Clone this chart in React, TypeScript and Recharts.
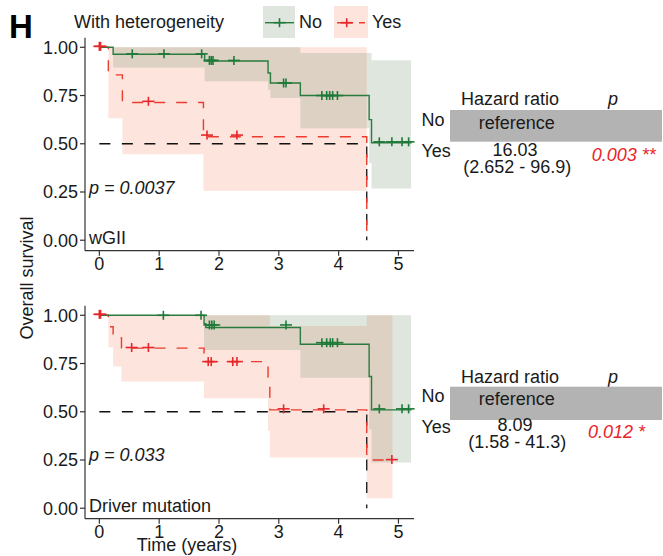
import React from 'react';
import { ComposedChart, Line, Area, Scatter, XAxis, YAxis } from 'recharts';

const FONT = '"Liberation Sans", Arial, Helvetica, sans-serif';
const TXT = '#1a1a1a';
const GREEN = '#2a7b3e';
const GREEN_MARK = '#1f7a3a';
const RED = '#ec3b2f';
const RED_MARK = '#e8262a';
const GREEN_FILL = '#6b8f6b';
const RED_FILL = '#f4845f';
const FILL_OP = 0.22;

const xTicks = [0, 1, 2, 3, 4, 5];
const yTicks = [0, 0.25, 0.5, 0.75, 1];

// ---------- Panel 1: wGII ----------
const wgiiNoCurve = [
  { t: 0, s: 1 }, { t: 0.23, s: 0.964 }, { t: 1.76, s: 0.929 }, { t: 2.82, s: 0.867 },
  { t: 2.86, s: 0.815 }, { t: 3.36, s: 0.75 }, { t: 4.51, s: 0.625 }, { t: 4.55, s: 0.505 },
  { t: 5.22, s: 0.505 },
];
const wgiiNoBand = [
  { t: 0, band: [1, 1] }, { t: 0.23, band: [0.895, 1] }, { t: 1.76, band: [0.824, 1] },
  { t: 2.82, band: [0.78, 1] }, { t: 2.86, band: [0.737, 1] }, { t: 3.36, band: [0.58, 0.97] },
  { t: 4.51, band: [0.4, 0.97] }, { t: 4.55, band: [0.268, 0.933] }, { t: 5.21, band: [0.268, 0.933] },
];
const wgiiNoCensor = [
  { t: 0.55, s: 0.966 }, { t: 1.08, s: 0.966 }, { t: 1.71, s: 0.966 },
  { t: 1.84, s: 0.932 }, { t: 1.87, s: 0.932 }, { t: 1.9, s: 0.932 }, { t: 2.25, s: 0.932 },
  { t: 3.08, s: 0.815 }, { t: 3.12, s: 0.815 },
  { t: 3.72, s: 0.75 }, { t: 3.8, s: 0.75 }, { t: 3.85, s: 0.75 }, { t: 3.9, s: 0.75 }, { t: 3.98, s: 0.75 },
  { t: 4.68, s: 0.51 }, { t: 4.89, s: 0.51 }, { t: 5.06, s: 0.51 }, { t: 5.17, s: 0.51 },
];
const wgiiYesCurve = [
  { t: 0, s: 1 }, { t: 0.15, s: 0.857 }, { t: 0.385, s: 0.714 }, { t: 1.74, s: 0.536 }, { t: 4.47, s: 0 },
];
const wgiiYesBand = [
  { t: 0, band: [1, 1] }, { t: 0.15, band: [0.632, 1] }, { t: 0.385, band: [0.446, 1] },
  { t: 1.74, band: [0.256, 1] }, { t: 4.47, band: [0.256, 1] },
];
const wgiiYesCensor = [
  { t: 0, s: 1.005 }, { t: 0.02, s: 1.005 }, { t: 0.82, s: 0.72 }, { t: 1.8, s: 0.545 }, { t: 2.3, s: 0.545 },
];
const wgiiMedian = [{ t: 0, s: 0.5 }, { t: 4.47, s: 0.5 }, { t: 4.47, s: 0 }];

// ---------- Panel 2: Driver mutation ----------
const driverNoCurve = [
  { t: 0, s: 1 }, { t: 1.75, s: 0.957 }, { t: 1.78, s: 0.937 }, { t: 3.36, s: 0.85 },
  { t: 4.51, s: 0.683 }, { t: 4.55, s: 0.51 }, { t: 5.22, s: 0.51 },
];
const driverNoBand = [
  { t: 0, band: [1, 1] }, { t: 1.75, band: [0.82, 1] }, { t: 3.36, band: [0.676, 1] },
  { t: 4.51, band: [0.41, 1] }, { t: 4.55, band: [0.237, 1] }, { t: 5.21, band: [0.237, 1] },
];
const driverNoCensor = [
  { t: 1.07, s: 1.0 }, { t: 1.7, s: 1.0 },
  { t: 1.84, s: 0.95 }, { t: 1.88, s: 0.95 }, { t: 1.92, s: 0.95 }, { t: 3.12, s: 0.95 },
  { t: 3.72, s: 0.858 }, { t: 3.8, s: 0.858 }, { t: 3.86, s: 0.858 }, { t: 3.9, s: 0.858 }, { t: 3.98, s: 0.858 },
  { t: 4.68, s: 0.515 }, { t: 5.06, s: 0.515 }, { t: 5.17, s: 0.515 },
];
const driverYesCurve = [
  { t: 0, s: 1 }, { t: 0.15, s: 0.941 }, { t: 0.23, s: 0.882 }, { t: 0.37, s: 0.83 },
  { t: 1.75, s: 0.76 }, { t: 2.82, s: 0.68 }, { t: 2.85, s: 0.51 }, { t: 4.47, s: 0.25 }, { t: 4.92, s: 0.25 },
];
const driverYesBand = [
  { t: 0, band: [1, 1] }, { t: 0.15, band: [0.835, 1] }, { t: 0.23, band: [0.735, 1] },
  { t: 0.37, band: [0.657, 1] }, { t: 1.75, band: [0.57, 1] }, { t: 2.82, band: [0.4, 1] },
  { t: 2.85, band: [0.263, 0.945] }, { t: 4.47, band: [0.052, 1] }, { t: 4.9, band: [0.052, 1] },
];
const driverYesCensor = [
  { t: 0, s: 1.005 }, { t: 0.02, s: 1.005 }, { t: 0.54, s: 0.833 }, { t: 0.82, s: 0.833 },
  { t: 1.82, s: 0.76 }, { t: 1.87, s: 0.76 }, { t: 2.23, s: 0.76 }, { t: 2.3, s: 0.76 },
  { t: 3.08, s: 0.515 }, { t: 3.75, s: 0.515 }, { t: 4.89, s: 0.252 },
];
const driverMedian = [{ t: 0, s: 0.5 }, { t: 4.47, s: 0.5 }, { t: 4.47, s: 0 }];

const Plus = ({ cx, cy, color }: { cx: number; cy: number; color: string }) => (
  <g stroke={color} strokeWidth={1.6}>
    <line x1={cx - 6} x2={cx + 6} y1={cy} y2={cy} />
    <line x1={cx} x2={cx} y1={cy - 4.5} y2={cy + 4.5} />
  </g>
);

const tickStyle = { fontSize: 18, fill: TXT, fontFamily: FONT };
const axisLineStyle = { stroke: '#333', strokeWidth: 1.2 };

function KMPanel(props: any) {
  const { top, noCurve, noBand, noCensor, yesCurve, yesBand, yesCensor, median } = props;
  return (
    <div style={{ position: 'absolute', left: 0, top, width: 420, height: 280 }}>
      <ComposedChart width={420} height={280} margin={{ top: 37.65, right: 6, bottom: 4.35, left: 0 }}>
        <XAxis
          type="number"
          dataKey="t"
          domain={[-0.24, 5.26]}
          ticks={xTicks}
          interval={0}
          tickSize={5}
          height={25}
          axisLine={axisLineStyle}
          tickLine={axisLineStyle}
          tick={tickStyle}
        />
        <YAxis
          type="number"
          domain={[-0.054, 1.05]}
          ticks={yTicks}
          interval={0}
          width={85}
          tickSize={5}
          axisLine={axisLineStyle}
          tickLine={axisLineStyle}
          tick={tickStyle}
          tickFormatter={(v: number) => v.toFixed(2)}
        />
        <Area data={yesBand} dataKey="band" type="stepAfter" stroke="none" fill={RED_FILL} fillOpacity={FILL_OP} isAnimationActive={false} />
        <Area data={noBand} dataKey="band" type="stepAfter" stroke="none" fill={GREEN_FILL} fillOpacity={FILL_OP} isAnimationActive={false} />
        <Line data={median} dataKey="s" type="linear" stroke="#111" strokeWidth={1.3} strokeDasharray="11 11.5" dot={false} activeDot={false} isAnimationActive={false} />
        <Line data={yesCurve} dataKey="s" type="stepAfter" stroke={RED} strokeWidth={1.4} strokeDasharray="11 11" dot={false} activeDot={false} isAnimationActive={false} />
        <Line data={noCurve} dataKey="s" type="stepAfter" stroke={GREEN} strokeWidth={1.4} dot={false} activeDot={false} isAnimationActive={false} />
        <Scatter data={yesCensor} dataKey="s" isAnimationActive={false} shape={(p: any) => <Plus cx={p.cx} cy={p.cy} color={RED_MARK} />} />
        <Scatter data={noCensor} dataKey="s" isAnimationActive={false} shape={(p: any) => <Plus cx={p.cx} cy={p.cy} color={GREEN_MARK} />} />
      </ComposedChart>
    </div>
  );
}

function HRTable(props: any) {
  const { hdr, rectY, rectH, noY, refY, yesY, hrY, ciY, pY, hr, ci, pval, pX } = props;
  return (
    <g fontFamily={FONT} fontSize={18} fill={TXT}>
      <text x={510} y={hdr} textAnchor="middle">Hazard ratio</text>
      <text x={613} y={hdr} textAnchor="middle" fontStyle="italic">p</text>
      <rect x={450} y={rectY} width={212} height={rectH} fill="#b3b3b3" />
      <text x={421.5} y={noY}>No</text>
      <text x={516.7} y={refY} textAnchor="middle">reference</text>
      <text x={421.5} y={yesY}>Yes</text>
      <text x={515} y={hrY} textAnchor="middle">{hr}</text>
      <text x={517.3} y={ciY} textAnchor="middle">{ci}</text>
      <text x={pX} y={pY} fontStyle="italic" fill={RED_MARK}>{pval}</text>
    </g>
  );
}

export default function App() {
  return (
    <div style={{ position: 'absolute', left: 0, top: 0, width: 663, height: 556, background: '#fff', fontFamily: FONT }}>
      <KMPanel
        top={0}
        noCurve={wgiiNoCurve}
        noBand={wgiiNoBand}
        noCensor={wgiiNoCensor}
        yesCurve={wgiiYesCurve}
        yesBand={wgiiYesBand}
        yesCensor={wgiiYesCensor}
        median={wgiiMedian}
      />
      <KMPanel
        top={267.75}
        noCurve={driverNoCurve}
        noBand={driverNoBand}
        noCensor={driverNoCensor}
        yesCurve={driverYesCurve}
        yesBand={driverYesBand}
        yesCensor={driverYesCensor}
        median={driverMedian}
      />
      <svg width={663} height={556} style={{ position: 'absolute', left: 0, top: 0, pointerEvents: 'none' }}>
        <text x={9} y={38} fontFamily={FONT} fontSize={33} fontWeight="bold" fill="#000">H</text>
        <text x={74} y={27.5} fontFamily={FONT} fontSize={18} fill={TXT}>With heterogeneity</text>
        <rect x={263} y={6} width={32} height={32} fill={GREEN_FILL} fillOpacity={FILL_OP} />
        <line x1={265} x2={294} y1={22.7} y2={22.7} stroke={GREEN} strokeWidth={1.4} />
        <Plus cx={279.5} cy={22.7} color={GREEN_MARK} />
        <text x={299} y={27.5} fontFamily={FONT} fontSize={18} fill={TXT}>No</text>
        <rect x={334} y={6} width={34} height={32} fill={RED_FILL} fillOpacity={FILL_OP} />
        <line x1={337} x2={366} y1={22.7} y2={22.7} stroke={RED} strokeWidth={1.4} strokeDasharray="16 6 6" />
        <Plus cx={346.7} cy={22.7} color={RED_MARK} />
        <text x={372} y={27.5} fontFamily={FONT} fontSize={18} fill={TXT}>Yes</text>

        <text transform="translate(33,278) rotate(-90)" textAnchor="middle" fontFamily={FONT} fontSize={18} fill={TXT}>Overall survival</text>
        <text x={187} y={551} textAnchor="middle" fontFamily={FONT} fontSize={18} fill={TXT}>Time (years)</text>

        <text x={89} y={194} fontFamily={FONT} fontSize={18} fontStyle="italic" fill={TXT}>p = 0.0037</text>
        <text x={89} y={243.5} fontFamily={FONT} fontSize={18} fill={TXT}>wGII</text>
        <text x={89} y={461} fontFamily={FONT} fontSize={18} fontStyle="italic" fill={TXT}>p = 0.033</text>
        <text x={89} y={511.5} fontFamily={FONT} fontSize={18} fill={TXT}>Driver mutation</text>

        <HRTable hdr={105} rectY={110} rectH={31.7} noY={126} refY={129} yesY={156.7} hrY={156} ciY={172.5} pY={160.5} pX={591.7}
          hr="16.03" ci="(2.652 - 96.9)" pval="0.003 **" />
        <HRTable hdr={383.3} rectY={386.7} rectH={33.3} noY={401.7} refY={405} yesY={432.7} hrY={431} ciY={447.8} pY={438.3} pX={588}
          hr="8.09" ci="(1.58 - 41.3)" pval="0.012 *" />
      </svg>
    </div>
  );
}
